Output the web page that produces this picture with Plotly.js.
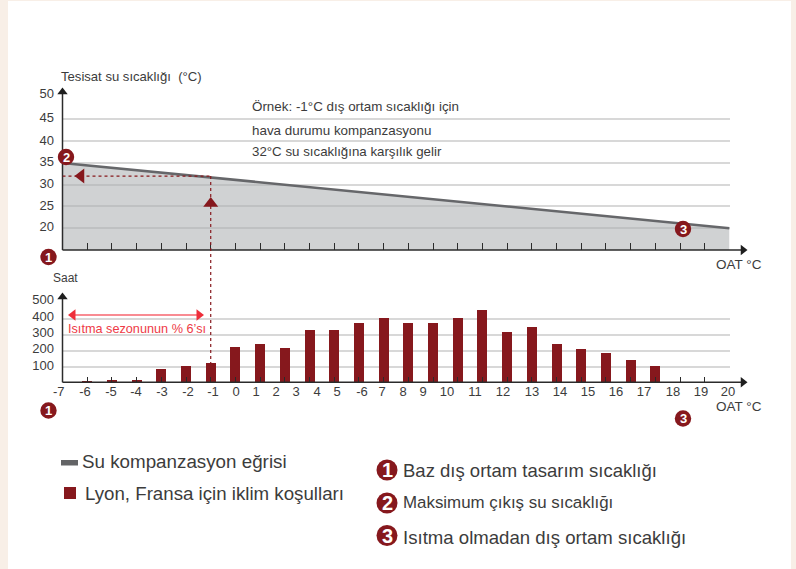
<!DOCTYPE html>
<html><head><meta charset="utf-8">
<script src="https://cdn.plot.ly/plotly-3.0.1.min.js"></script>
<style>html,body{margin:0;padding:0;background:#f8efe7}#c{width:796px;height:569px}</style>
</head><body><div id="c"></div>
<script>
// ---- data ----
var curveOAT = [-7, 20];
var curveWater = [35, 20];
var hoursOAT = [-6,-5,-4,-3,-2,-1,0,1,2,3,4,5,6,7,8,9,10,11,12,13,14,15,16,17];
var hoursValues = [8,15,15,85,105,122,225,245,220,330,330,380,410,380,375,410,460,320,350,245,210,185,140,105];
var waterTickValues = [20,25,30,35,40,45,50];
var hoursTickValues = [100,200,300,400,500];
var oatTicks = [-7,-6,-5,-4,-3,-2,-1,0,1,2,3,4,5,6,7,8,9,10,11,12,13,14,15,16,17,18,19,20];
var lowerTickText = ['-7','-6','-5','-4','-3','-2','-1','0','1','2','3','4','5','-6','7','8','9','10','11','12','13','14','15','16','17','18','19','20'];
var upperLabelText = ['50','45','40','35','30','25','20'];
var lowerLabelText = ['500','400','300','200','100'];
var exampleOAT = -1, exampleWater = 32;

// ---- geometry ----
var W=796,H=569, L=62.5,R=729.5, uTop=97.7,uBot=250, lTop=303.7,lBot=382.3;
var DARK='#3c3c3c', RED='#86181d', AXIS='#2b2b2b', FONT='"Liberation Sans",Arial,sans-serif';
function fx(p){return p/W} function fy(p){return 1-p/H}
function xOf(p){return -7+(p-L)*27/(R-L)}
function uY(p){return 15+(uBot-p)*35/(uBot-uTop)}
function lY(p){return (lBot-p)*500/(lBot-lTop)}

// label positions (the source artwork's labels drift away from their ticks)
var lowerLabelPx=[58.7,85,111,136,162,188,213,236,256,276,296,317,337,362,382,403,423,447,475,503,532,560,588,616,644,673,701,728];
var upperLabelPx=[93.3,117.3,140,161.7,183.7,205.3,226.7];
var lowerYLabelPx=[299,316,332,348,365];

function txt(x,y,t,size,color,extra){
  return Object.assign({xref:'paper',yref:'paper',x:fx(x),y:fy(y),text:t,showarrow:false,xanchor:'left',yanchor:'middle',
    align:'left',font:{family:FONT,size:size,color:color||DARK},borderpad:0,borderwidth:0},extra||{});
}
var shapes=[], annotations=[];
function badge(cx,cy,r,n,size){
  shapes.push({type:'circle',xref:'paper',yref:'paper',x0:fx(cx-r),x1:fx(cx+r),y0:fy(cy+r),y1:fy(cy-r),fillcolor:RED,line:{width:0},layer:'above'});
  annotations.push(txt(cx,cy,'<b>'+n+'</b>',size,'#fff',{xanchor:'center'}));
}
// page panel
shapes.push({type:'rect',xref:'paper',yref:'paper',x0:fx(8),x1:fx(791),y0:0,y1:fy(1),fillcolor:'#fff',line:{width:0},layer:'below'});
// example guide lines
shapes.push({type:'line',xref:'x',yref:'paper',x0:exampleOAT,x1:exampleOAT,y0:fy(176),y1:fy(363),line:{color:RED,width:1.2,dash:'3px,3px'},layer:'above'});
shapes.push({type:'line',xref:'x',yref:'y',x0:-7,x1:exampleOAT,y0:exampleWater,y1:exampleWater,line:{color:RED,width:1.2,dash:'3px,3px'},layer:'above'});
// legend swatches
shapes.push({type:'rect',xref:'paper',yref:'paper',x0:fx(61),x1:fx(78),y0:fy(465.5),y1:fy(460),fillcolor:'#636466',line:{width:0}});
shapes.push({type:'rect',xref:'paper',yref:'paper',x0:fx(64),x1:fx(76),y0:fy(499),y1:fy(487),fillcolor:RED,line:{width:0}});

annotations.push(txt(61,76,'Tesisat su sıcaklığı  (°C)',13.1));
annotations.push(txt(252,107,'Örnek: -1°C dış ortam sıcaklığı için',13.4));
annotations.push(txt(252,130,'hava durumu kompanzasyonu',13.4));
annotations.push(txt(252,151.5,'32°C su sıcaklığına karşılık gelir',13.3));
annotations.push(txt(716,264,'OAT °C',13.5));
annotations.push(txt(716,407,'OAT °C',13.5));
annotations.push(txt(52.5,278,'Saat',12));
annotations.push(txt(68,329,'Isıtma sezonunun % 6’sı',12.7,'#ee3a46'));
annotations.push(txt(82,461,'Su kompanzasyon eğrisi',18.8));
annotations.push(txt(85,493,'Lyon, Fransa için iklim koşulları',18.7));
annotations.push(txt(403,470,'Baz dış ortam tasarım sıcaklığı',18.5));
annotations.push(txt(403,503,'Maksimum çıkış su sıcaklığı',16.9));
annotations.push(txt(403,537,'Isıtma olmadan dış ortam sıcaklığı',18.6));
badge(66,157,8.2,'2',13); badge(48.5,257,8.2,'1',13); badge(683,229,8.2,'3',13);
badge(48.5,410.5,8.2,'1',13); badge(683,418.5,8.2,'3',13);
badge(387,470,10.5,'1',20); badge(387,503,10.5,'2',20); badge(387,535.5,10.5,'3',20);

function head(xa,ya,x,y,sym,size,color){
  return {type:'scatter',mode:'markers',xaxis:xa,yaxis:ya,x:[x],y:[y],cliponaxis:false,hoverinfo:'skip',showlegend:false,
    marker:{symbol:sym,size:size,color:color,line:{width:0}}};
}
function seg(xa,ya,x,y,color,width){
  return {type:'scatter',mode:'lines',xaxis:xa,yaxis:ya,x:x,y:y,cliponaxis:false,hoverinfo:'skip',showlegend:false,
    line:{color:color,width:width}};
}
var traces=[
  {type:'scatter',mode:'lines',name:'Su kompanzasyon eğrisi',x:curveOAT,y:curveWater,fill:'tozeroy',fillcolor:'rgba(172,174,177,0.56)',line:{color:'#66676a',width:2.6},hoverinfo:'skip',showlegend:false},
  {type:'bar',name:'Lyon, Fransa için iklim koşulları',xaxis:'x2',yaxis:'y2',x:hoursOAT,y:hoursValues,width:0.405,marker:{color:RED,line:{width:0}},hoverinfo:'skip',showlegend:false},
  // axis shafts & arrowheads live on the wider label axes so they may pass the plot edge
  seg('x3','y3',[-7,-7],[15,uY(92)],AXIS,1.5),
  seg('x3','y3',[-7,xOf(742)],[15,15],AXIS,1.5),
  seg('x3','y4',[-7,-7],[0,lY(297)],AXIS,1.5),
  seg('x3','y4',[-7,xOf(742)],[0,0],AXIS,1.5),
  head('x3','y3',-7,uY(92),'triangle-up',9,'#1e1e1e'),
  head('x3','y3',xOf(743),15,'triangle-right',9,'#1e1e1e'),
  head('x3','y4',-7,lY(297),'triangle-up',9,'#1e1e1e'),
  head('x3','y4',xOf(743),0,'triangle-right',9,'#1e1e1e'),
  // example arrows
  head('x','y',xOf(81),exampleWater,'triangle-left',13,RED),
  head('x','y',exampleOAT,uY(203.5),'triangle-up',13,RED),
  // heating season span
  seg('x2','y2',[xOf(70),xOf(200)],[lY(315),lY(315)],'#f7646e',1.6),
  head('x2','y2',xOf(73),lY(315),'triangle-left',10,'#ee2e3a'),
  head('x2','y2',xOf(199),lY(315),'triangle-right',10,'#ee2e3a')
];
var tickFont={family:FONT,size:13,color:DARK};
var exL=30,exR=770,uA=60,uB=270,lA=285,lB=400;
var hidden={showgrid:false,zeroline:false,showline:false};
var layout={
  width:W,height:H,margin:{l:0,r:0,t:0,b:0,pad:0},paper_bgcolor:'#f8efe7',plot_bgcolor:'rgba(0,0,0,0)',showlegend:false,
  bargap:0,shapes:shapes,annotations:annotations,
  xaxis:Object.assign({},hidden,{domain:[fx(L),fx(R)],range:[-7,20],anchor:'y',tickmode:'array',tickvals:oatTicks,ticks:'inside',ticklen:7,tickwidth:1,tickcolor:AXIS,showticklabels:false}),
  yaxis:{domain:[fy(uBot),fy(uTop)],range:[15,50],anchor:'x',tickmode:'array',tickvals:waterTickValues,showgrid:true,gridcolor:'#d8d8d8',gridwidth:2,zeroline:false,showline:false,ticks:'',showticklabels:false},
  xaxis2:Object.assign({},hidden,{domain:[fx(L),fx(R)],range:[-7,20],anchor:'y2',tickmode:'array',tickvals:oatTicks,ticks:'inside',ticklen:5,tickwidth:1,tickcolor:AXIS,showticklabels:false}),
  yaxis2:{domain:[fy(lBot),fy(lTop)],range:[0,500],anchor:'x2',tickmode:'array',tickvals:hoursTickValues,showgrid:true,gridcolor:'#d8d8d8',gridwidth:2,zeroline:false,showline:false,ticks:'',showticklabels:false},
  // label-only axes carrying the drifted tick labels
  xaxis3:Object.assign({},hidden,{domain:[fx(exL),fx(exR)],range:[xOf(exL),xOf(exR)],anchor:'y2',tickmode:'array',tickvals:lowerLabelPx.map(xOf),ticktext:lowerTickText,ticks:'',ticklabelstandoff:0,tickfont:tickFont}),
  yaxis3:Object.assign({},hidden,{domain:[fy(uB),fy(uA)],range:[uY(uB),uY(uA)],anchor:'x',tickmode:'array',tickvals:upperLabelPx.map(uY),ticktext:upperLabelText,ticks:'outside',ticklen:5,tickcolor:'rgba(0,0,0,0)',tickfont:tickFont}),
  yaxis4:Object.assign({},hidden,{domain:[fy(lB),fy(lA)],range:[lY(lB),lY(lA)],anchor:'x2',tickmode:'array',tickvals:lowerYLabelPx.map(lY),ticktext:lowerLabelText,ticks:'outside',ticklen:5,tickcolor:'rgba(0,0,0,0)',tickfont:tickFont})
};
Plotly.newPlot('c',traces,layout,{displayModeBar:false,staticPlot:true});
</script></body></html>
